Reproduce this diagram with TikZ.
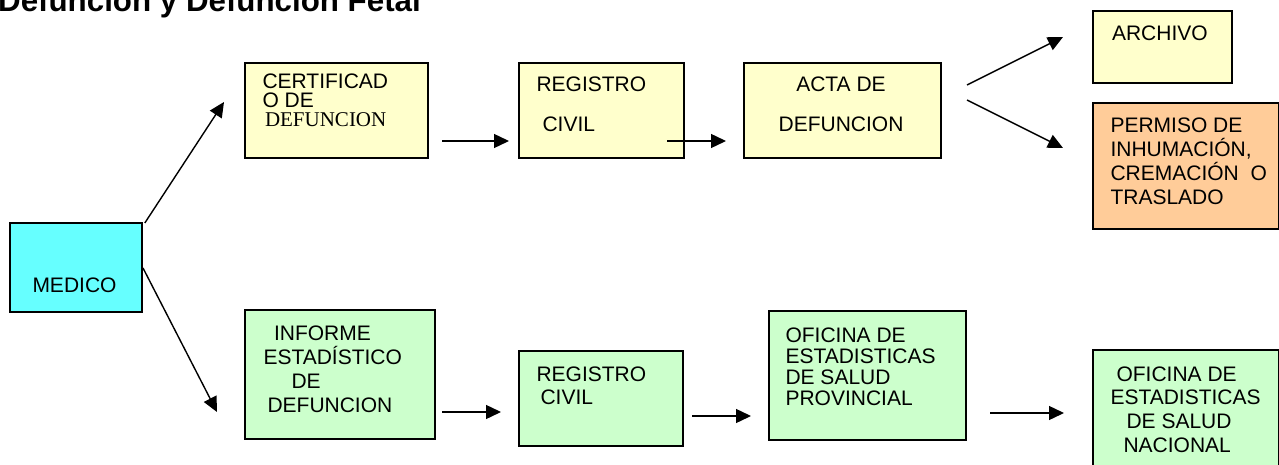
\documentclass[tikz,border=0pt]{standalone}
\usepackage{fontspec}
\setmainfont{Liberation Sans}
\newfontfamily\timesf{Liberation Serif}
\usetikzlibrary{arrows.meta}
\definecolor{yel}{HTML}{FFFFCC}
\definecolor{org}{HTML}{FFCC99}
\definecolor{cya}{HTML}{66FFFF}
\definecolor{grn}{HTML}{CCFFCC}
\newcommand{\mylines}[2]{\vtop{\baselineskip=#1pt\lineskiplimit=-20pt #2}}
\newcommand{\tline}[2][0]{\hbox{\kern#1pt #2}}
\begin{document}
\begin{tikzpicture}[x=1pt,y=-1pt,
  box/.style={draw=black,line width=1.8pt,inner sep=0pt,anchor=north west},
  txt/.style={inner sep=0pt,outer sep=0pt,anchor=base west,font=\fontsize{21}{24}\selectfont},
  arr/.style={line width=1.4pt,-{Triangle[length=15pt,width=14pt]}}]
\useasboundingbox (0,0) rectangle (1279,465);
\clip (0,0) rectangle (1279,465);
\fill[white] (0,0) rectangle (1279,465);
% title
\node[inner sep=0pt,anchor=base west,font=\bfseries\fontsize{31.3}{32}\selectfont] (title) at (-2,12) {Defuncion y Defuncion Fetal};
% boxes
\node[box,fill=yel,minimum width=183pt,minimum height=95pt] (cert) at (244,62) {};
\node[box,fill=yel,minimum width=165pt,minimum height=95pt] (regT) at (518,62) {};
\node[box,fill=yel,minimum width=197pt,minimum height=95pt] (acta) at (743,62) {};
\node[box,fill=yel,minimum width=139pt,minimum height=72pt] (arch) at (1092,10) {};
\node[box,fill=org,minimum width=186pt,minimum height=126pt] (perm) at (1092,102) {};
\node[box,fill=cya,minimum width=132pt,minimum height=89pt] (medico) at (9,222) {};
\node[box,fill=grn,minimum width=190pt,minimum height=129pt] (inf) at (244,309) {};
\node[box,fill=grn,minimum width=164pt,minimum height=95pt] (regB) at (518,350) {};
\node[box,fill=grn,minimum width=197pt,minimum height=129pt] (prov) at (768,310) {};
\node[box,fill=grn,minimum width=186pt,minimum height=130pt] (nac) at (1092,349) {};
% texts
\node[txt] (certT) at (262.5,89) {\mylines{19}{\tline{CERTIFICAD}\tline{O DE}\tline[2.5]{\timesf DEFUNCION}}};
\node[txt] (regTT) at (536.5,92) {\mylines{40}{\tline{REGISTRO}\tline[6]{CIVIL}}};
\node[txt,anchor=base] (actaT) at (841,92) {\mylines{40}{\halign{\hfil#\hfil\cr ACTA DE\cr DEFUNCION\cr}}};
\node[txt] (archT) at (1112,41) {ARCHIVO};
\node[txt] (permT) at (1110.5,133) {\mylines{23.7}{\tline{PERMISO DE}\tline{INHUMACIÓN,}\tline{CREMACIÓN\ \ O}\tline{TRASLADO}}};
\node[txt,anchor=base] (medicoT) at (74.5,292) {MEDICO};
\node[txt] (infT) at (263.5,340) {\mylines{24}{\tline[10.5]{INFORME}\tline{ESTADÍSTICO}\tline[28]{DE}\tline[4]{DEFUNCION}}};
\node[txt] (regBT) at (536.5,381) {\mylines{23}{\tline{REGISTRO}\tline[4]{CIVIL}}};
\node[txt] (provT) at (785.5,342) {\mylines{21.3}{\tline{OFICINA DE}\tline{ESTADISTICAS}\tline{DE SALUD}\tline{PROVINCIAL}}};
\node[txt] (nacT) at (1110.5,381) {\mylines{23.8}{\tline[6]{OFICINA DE}\tline{ESTADISTICAS}\tline[16]{DE SALUD}\tline[13]{NACIONAL}}};
% arrow ends
\coordinate (e1) at (224,102);
\coordinate (s2) at (143,268);
\coordinate (e2) at (217,412);
\coordinate (s3) at (442,141);
\coordinate (e3) at (509,141);
\coordinate (s4) at (667,141);
\coordinate (e4) at (726,141);
\coordinate (s5) at (967,85);
\coordinate (e5) at (1063,37);
\coordinate (s6) at (967,100);
\coordinate (e6) at (1063,148);
\coordinate (s7) at (442,412);
\coordinate (e7) at (501,412);
\coordinate (s8) at (692,416);
\coordinate (e8) at (751,416);
\coordinate (s9) at (990,413);
\coordinate (e9) at (1064,413);
% arrows
\draw[arr] ([xshift=2pt,yshift=-1pt]medico.north east) -- (e1);
\draw[arr] (s2) -- (e2);
\draw[arr] (s3) -- (e3);
\draw[arr] (s4) -- (e4);
\draw[arr] (s5) -- (e5);
\draw[arr] (s6) -- (e6);
\draw[arr] (s7) -- (e7);
\draw[arr] (s8) -- (e8);
\draw[arr] (s9) -- (e9);
\end{tikzpicture}
\end{document}
